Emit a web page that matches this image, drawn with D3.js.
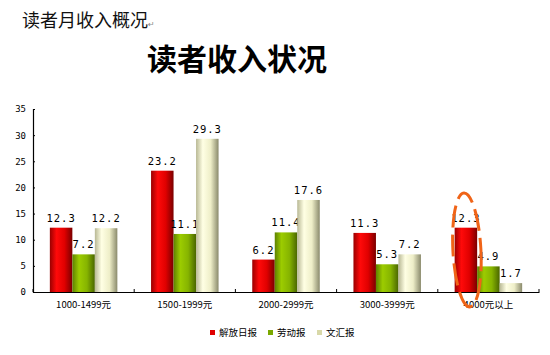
<!DOCTYPE html>
<html><head><meta charset="utf-8">
<script src="https://cdn.jsdelivr.net/npm/d3@7"></script>
<style>body{margin:0;background:#fff}svg{display:block}</style>
</head><body>
<svg id="c" width="550" height="355"></svg>
<script>
const categories = ["1000-1499元", "1500-1999元", "2000-2999元", "3000-3999元", "4000元以上"];
const seriesNames = ["解放日报", "劳动报", "文汇报"];
const jiefang = [12.3, 23.2, 6.2, 11.3, 12.3];
const laodong = [7.2, 11.1, 11.4, 5.3, 4.9];
const wenhui = [12.2, 29.3, 17.6, 7.2, 1.7];
const yTicks = [0, 5, 10, 15, 20, 25, 30, 35];

(function () {
const series = [jiefang, laodong, wenhui];
const svg = d3.select("#c");
const defs = svg.append("defs");
const grads = [
  ["#9a0000", "#ff0a0a", "#e00000", "#7a0000"],
  ["#5e8200", "#9ccc00", "#86b400", "#4a6600"],
  ["#b8b894", "#ffffe4", "#eeeec8", "#8a8a6c"]
];
grads.forEach((g, i) => {
  const lg = defs.append("linearGradient").attr("id", "g" + i).attr("x1", 0).attr("x2", 1).attr("y1", 0).attr("y2", 0);
  lg.append("stop").attr("offset", "0%").attr("stop-color", g[0]);
  lg.append("stop").attr("offset", "30%").attr("stop-color", g[1]);
  lg.append("stop").attr("offset", "65%").attr("stop-color", g[2]);
  lg.append("stop").attr("offset", "100%").attr("stop-color", g[3]);
});
const legendColors = ["#e00000", "#7aa800", "#d8d8a8"];

svg.append("text").attr("x", 22).attr("y", 27).attr("font-family", "Noto Sans CJK SC").attr("font-size", 18).attr("fill", "#111").text("读者月收入概况");
svg.append("text").attr("x", 148).attr("y", 27).attr("font-family", "DejaVu Sans").attr("font-size", 8).attr("fill", "#888").text("↵");
svg.append("text").attr("x", 237).attr("y", 70).attr("text-anchor", "middle").attr("font-family", "Noto Sans CJK SC").attr("font-weight", "bold").attr("font-size", 30).attr("fill", "#000").text("读者收入状况");

const pl = 33, pr = 539, pt = 109, pb = 292;
const x = d3.scaleBand().domain(categories).range([pl, pr]).paddingInner(0).paddingOuter(0);
const y = d3.scaleLinear().domain([0, 35]).range([pb, pt]);
const barW = 22.5;
const groupW = barW * 3;

const yAxis = svg.append("g").attr("transform", `translate(${pl},0)`)
  .call(d3.axisLeft(y).tickValues(yTicks).tickSize(-2).tickPadding(7).tickFormat(d3.format("d")));
yAxis.select(".domain").attr("stroke", "#000").attr("stroke-width", 1.2);
yAxis.selectAll(".tick line").attr("stroke", "#000");
yAxis.selectAll("text").attr("font-family", "DejaVu Sans Mono").attr("font-size", 9).attr("fill", "#000");

const g = svg.append("g");
categories.forEach((c, ci) => {
  const x0 = x(c) + (x.bandwidth() - groupW) / 2;
  series.forEach((s, si) => {
    const v = s[ci];
    g.append("rect").attr("x", x0 + si * barW).attr("y", y(v)).attr("width", barW).attr("height", pb - y(v)).attr("fill", `url(#g${si})`);
    g.append("text").attr("x", x0 + si * barW + barW / 2).attr("y", y(v) - 6).attr("text-anchor", "middle")
      .attr("font-family", "DejaVu Sans Mono").attr("font-size", 10.5).attr("letter-spacing", 1).attr("fill", "#000").text(v.toFixed(1));
  });
});

const xAxis = svg.append("g").attr("transform", `translate(0,${pb})`)
  .call(d3.axisBottom(x).tickSize(0).tickPadding(9));
xAxis.select(".domain").attr("stroke", "#000").attr("stroke-width", 1.2);
xAxis.selectAll("text").attr("font-family", "Noto Sans CJK SC").attr("font-size", 9.5).attr("fill", "#000");
const bounds = categories.map(c => x(c)).concat([pr]);
svg.append("g").selectAll("line").data(bounds).join("line")
  .attr("x1", d => d).attr("x2", d => d).attr("y1", pb - 3).attr("y2", pb).attr("stroke", "#000");

const legX = [210, 268, 317];
seriesNames.forEach((n, i) => {
  svg.append("rect").attr("x", legX[i]).attr("y", 330).attr("width", 5).attr("height", 5).attr("fill", legendColors[i]);
  svg.append("text").attr("x", legX[i] + 9).attr("y", 336).attr("font-family", "Noto Sans CJK SC").attr("font-size", 9.5).attr("fill", "#000").text(n);
});

const lastX = x(categories[4]) + (x.bandwidth() - groupW) / 2 + barW / 2;
svg.append("ellipse").attr("cx", lastX + 1).attr("cy", 250).attr("rx", 14).attr("ry", 57)
  .attr("transform", `rotate(-3,${lastX + 1},250)`)
  .attr("fill", "none").attr("stroke", "#f06418").attr("stroke-width", 3).attr("stroke-dasharray", "22,7");
})();
</script>
</body></html>
